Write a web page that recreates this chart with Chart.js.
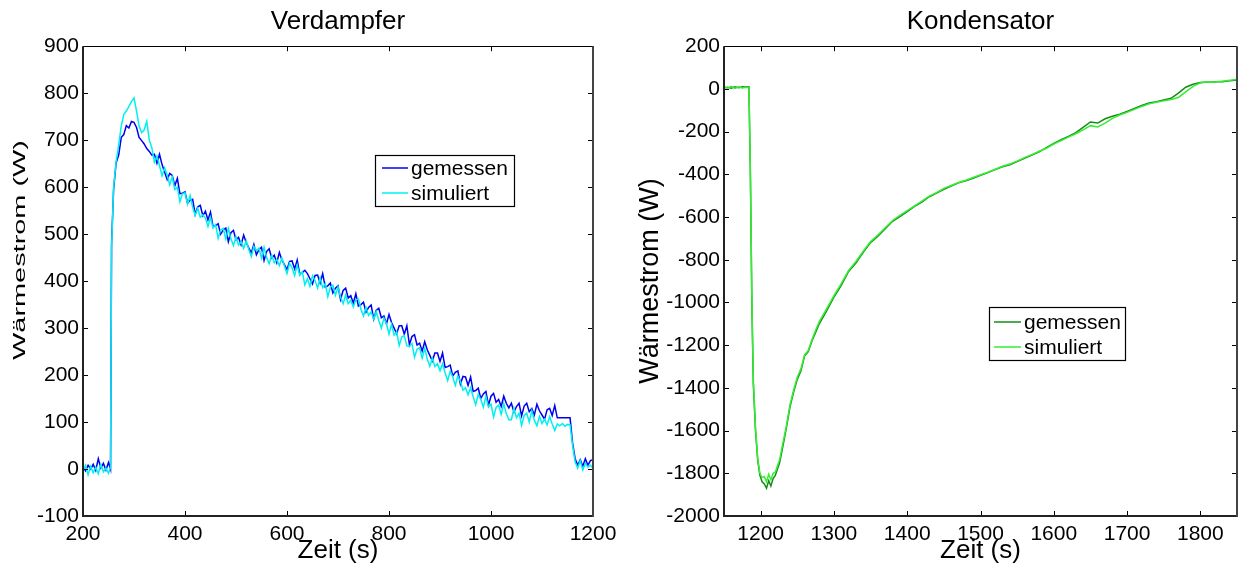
<!DOCTYPE html>
<html>
<head>
<meta charset="utf-8">
<script src="https://cdn.jsdelivr.net/npm/chart.js@4.4.0/dist/chart.umd.min.js"></script>
<style>
html,body{margin:0;padding:0;background:#fff;}
#wrap{position:relative;width:1239px;height:566px;overflow:hidden;}
.panel{position:absolute;top:0;height:566px;}
</style>
</head>
<body>
<div id="wrap">
  <div class="panel" style="left:0;width:620px"><canvas id="cVerd"></canvas></div>
  <div class="panel" style="left:620px;width:619px"><canvas id="cKond"></canvas></div>
</div>
<script>
// Verdampfer (links) / Kondensator (rechts): gemessen vs. simuliert
const FONT = '"Liberation Sans", Arial, sans-serif';

// --- Verdampfer ---
const T_VERD = [200,205,210,215,220,225,230,235,240,245,250,254,256,
  260,265,270,275,280,285,290,295,300,305, 310,315,320,325,330,335,340,345,350,355,
  360,365,370,375,380,385,390,395,400,405, 410,415,420,425,430,435,440,445,450,455,
  460,465,470,475,480,485,490,495,500,505, 510,515,520,525,530,535,540,545,550,555,
  560,565,570,575,580,585,590,595,600,605, 610,615,620,625,630,635,640,645,650,655,
  660,665,670,675,680,685,690,695,700,705, 710,715,720,725,730,735,740,745,750,755,
  760,765,770,775,780,785,790,795,800,805, 810,815,820,825,830,835,840,845,850,855,
  860,865,870,875,880,885,890,895,900,905, 910,915,920,925,930,935,940,945,950,955,
  960,965,970,975,980,985,990,995,1000,1005, 1010,1015,1020,1025,1030,1035,1040,1045,1050,1055,
  1060,1065,1070,1075,1080,1085,1090,1095,1100,1105, 1110,1115,1120,1125,1130,1135,1140,1145,1150,1155,
  1160,1165,1170,1175,1180,1185,1190,1195,1200];
const GEM_VERD = [5,-4,8,0,10,-3,22,2,12,-2,14,0,480,
  595,652,668,706,712,731,726,740,738,727, 706,699,692,682,676,668,670,651,670,648,
  632,616,629,625,603,619,586,587,590,566, 572,574,542,558,561,539,549,530,547,516,
  518,522,500,509,513,484,503,508,488,493, 477,498,482,471,460,478,456,467,472,444,
  463,469,449,455,439,461,445,435,424,442, 443,426,445,415,418,423,416,405,394,412,
  413,396,416,387,390,396,375,385,390,361, 380,385,364,369,353,373,347,350,355,334,
  344,349,319,338,342,322,326,309,329,312, 300,288,305,305,287,305,265,282,286,264,
  268,251,271,254,242,230,247,247,229,247, 216,218,221,198,206,209,181,197,196,178,
  196,165,167,172,150,160,165,136,155,161, 142,148,133,155,140,130,140,121,133,140,
  113,134,140,122,129,115,138,124,115,106, 126,129,114,135,109,109,109,109,109,109,
  55,22,8,20,6,22,8,18,20];
const SIM_VERD = [-5,8,-12,6,-8,4,-10,10,-6,2,-9,4,470,
  600,655,690,730,755,762,772,782,790,762, 730,716,722,740,700,684,653,666,646,624,
  641,626,605,622,595,600,569,586,588,564, 582,557,540,555,536,541,534,516,536,513,
  520,491,509,512,490,512,490,476,494,477, 484,470,486,468,452,474,465,470,449,472,
  450,437,455,439,446,433,449,432,416,438, 428,412,434,412,420,392,405,389,411,401,
  385,407,386,395,367,387,391,370,388,366, 352,370,352,359,345,360,362,340,326,344,
  327,334,319,335,316,300,321,310,287,308, 285,292,263,281,284,262,261,267,238,255,
  258,236,257,234,219,236,218,224,209,224, 205,188,208,196,178,198,187,168,173,158,
  173,154,137,159,148,132,154,132,138,111, 131,136,116,139,118,105,105,129,109,119,
  93,114,119,100,124,104,92,112,97,106, 94,112,96,82,96,92,97,91,95,94,
  50,15,2,18,-2,12,4,8,2];
const XTICKS_VERD = [200,400,600,800,1000,1200];
const YTICKS_VERD = [-100,0,100,200,300,400,500,600,700,800,900];

// --- Kondensator ---
const T_KOND = [1150,1155,1160,1165,1170,1175,1180,1184,1186,1188,1190,1193,1196,1199,1202,1205,1208,1211,1214,1217,
  1220,1223,1226,1230,1235,1240,1245,1250,1255,1260,1265,1270,1275,1280,
  1290,1300,1310,1320,1330,1340,1350,1360,1370,1380,1390,1400,1410,1420,1430,1440,1450,1460,1470,1480,1490,
  1500,1510,1520,1530,1540,1550,1560,1570,1580,1590,1600,1610,1620,1630,1640,1650,1660,1670,1680,1690,
  1700,1710,1720,1730,1740,1750,1760,1770,1780,1790,1800,1810,1820,1830,1840,1850];
const GEM_KOND = [5,8,3,10,6,10,9,10,-400,-1000,-1380,-1600,-1740,-1810,-1840,-1850,-1870,-1835,-1860,-1825,
  -1810,-1780,-1750,-1680,-1590,-1490,-1420,-1360,-1320,-1250,-1230,-1180,-1140,-1100,
  -1040,-975,-920,-855,-815,-765,-720,-690,-655,-620,-598,-575,-550,-530,-505,-488,-470,-455,-440,-430,-418,
  -405,-392,-378,-365,-355,-340,-325,-310,-295,-275,-255,-238,-222,-205,-180,-155,-160,-140,-128,-118,
  -105,-92,-78,-66,-60,-52,-44,-20,8,22,30,32,34,33,38,42];
const SIM_KOND = [8,4,12,2,10,4,8,6,-380,-980,-1360,-1590,-1730,-1800,-1820,-1815,-1840,-1805,-1830,-1800,
  -1795,-1765,-1735,-1665,-1580,-1480,-1410,-1350,-1310,-1245,-1225,-1175,-1130,-1090,
  -1030,-968,-912,-850,-808,-760,-715,-684,-650,-616,-592,-570,-548,-526,-502,-486,-466,-452,-438,-428,-415,
  -402,-390,-376,-362,-352,-338,-322,-308,-292,-278,-258,-242,-226,-210,-192,-172,-178,-160,-138,-122,
  -110,-96,-82,-70,-62,-56,-50,-40,-14,12,28,34,32,36,40,45];
const XTICKS_KOND = [1200,1300,1400,1500,1600,1700,1800];
const YTICKS_KOND = [-2000,-1800,-1600,-1400,-1200,-1000,-800,-600,-400,-200,0,200];

const Y_LABEL = 'Wärmestrom (W)';

function pts(ts, vs){ return ts.map((t,i)=>({x:t, y:vs[i]})); }

function hline(ctx,x1,y1,x2,y2){ ctx.beginPath(); ctx.moveTo(x1,y1); ctx.lineTo(x2,y2); ctx.stroke(); }

// Kasten + nach innen zeigende Ticks (MATLAB-Stil)
const boxTicks = {
  id:'boxTicks',
  afterDraw(chart){
    const {ctx, chartArea:a, scales:{x, y}} = chart;
    const L = 5;
    ctx.save();
    ctx.strokeStyle = '#000'; ctx.lineWidth = 1;
    x.ticks.forEach(t=>{
      const px = Math.round(x.getPixelForValue(t.value))+0.5;
      hline(ctx,px,a.bottom,px,a.bottom-L);
      hline(ctx,px,a.top,px,a.top+L);
    });
    y.ticks.forEach(t=>{
      const py = Math.round(y.getPixelForValue(t.value))+0.5;
      hline(ctx,a.left,py,a.left+L,py);
      hline(ctx,a.right,py,a.right-L,py);
    });
    ctx.lineWidth = 1; ctx.strokeStyle = '#000';
    hline(ctx,a.left,Math.round(a.top)+0.5,a.right,Math.round(a.top)+0.5);
    ctx.lineWidth = 2; ctx.strokeStyle = '#222';
    hline(ctx,Math.round(a.left),a.top,Math.round(a.left),a.bottom+1);
    hline(ctx,a.left-1,Math.round(a.bottom),a.right+1,Math.round(a.bottom));
    ctx.strokeStyle = '#444';
    hline(ctx,Math.round(a.right),a.top,Math.round(a.right),a.bottom+1);
    ctx.restore();
  }
};

const boxLegend = {
  id:'boxLegend',
  afterDraw(chart, args, o){
    const ctx = chart.ctx;
    ctx.save();
    ctx.fillStyle = '#fff'; ctx.fillRect(o.x,o.y,o.w,o.h);
    ctx.strokeStyle = '#000'; ctx.lineWidth = 1.2; ctx.strokeRect(o.x+0.5,o.y+0.5,o.w,o.h);
    ctx.font = '21px ' + FONT; ctx.textBaseline = 'middle';
    chart.data.datasets.forEach((ds,i)=>{
      const yy = o.y + o.rows[i];
      ctx.strokeStyle = ds.borderColor; ctx.lineWidth = 1.5;
      hline(ctx,o.x+o.lx1,yy,o.x+o.lx2,yy);
      ctx.fillStyle = '#000'; ctx.fillText(ds.label, o.x+o.tx, yy+1);
    });
    ctx.restore();
  }
};

// schmale, in Textrichtung gestreckte y-Beschriftung (linkes Diagramm)
const stretchLabel = {
  id:'stretchLabel',
  afterDraw(chart, args, o){
    if(!o || !o.text) return;
    const ctx = chart.ctx;
    ctx.save();
    ctx.translate(o.x, o.y);
    ctx.rotate(-Math.PI/2);
    ctx.scale(o.stretch, 1);
    ctx.font = o.size + 'px ' + FONT;
    ctx.fillStyle = '#000'; ctx.textAlign = 'center'; ctx.textBaseline = 'middle';
    ctx.fillText(o.text, 0, 0);
    ctx.restore();
  }
};

function makeChart(id, cfg){
  return new Chart(document.getElementById(id), {
    type:'line',
    data:{datasets:[
      {label:'gemessen', data:pts(cfg.t, cfg.gem), borderColor:cfg.cGem, borderWidth:1.5, pointRadius:0, tension:0, fill:false, order:1},
      {label:'simuliert', data:pts(cfg.t, cfg.sim), borderColor:cfg.cSim, borderWidth:1.5, pointRadius:0, tension:0, fill:false, order:0}
    ]},
    options:{
      responsive:true, maintainAspectRatio:false, animation:false,
      layout:{padding:{left:0, right:cfg.padR, top:0, bottom:0}},
      plugins:{
        legend:{display:false}, tooltip:{enabled:false},
        title:{display:true, fullSize:false, text:cfg.title, color:'#000', font:{family:FONT, size:26, weight:'normal'}, padding:{top:6, bottom:9}},
        boxLegend:cfg.legend,
        stretchLabel:cfg.stretchLabel || {}
      },
      scales:{
        x:{type:'linear', min:cfg.xMin, max:cfg.xMax,
          grid:{display:false, drawTicks:false}, border:{display:false},
          afterBuildTicks:s=>{ s.ticks = cfg.xTicks.map(v=>({value:v})); },
          afterFit:s=>{ s.height = 50; s.paddingLeft = 0; s.paddingRight = 0; },
          ticks:{color:'#000', font:{family:FONT, size:21}, padding:6, maxRotation:0, autoSkip:false, callback:v=>String(v)},
          title:{display:true, text:'Zeit (s)', color:'#000', font:{family:FONT, size:26, lineHeight:1.1}, padding:{top:0, bottom:1}}},
        y:{type:'linear', min:cfg.yMin, max:cfg.yMax,
          grid:{display:false, drawTicks:false}, border:{display:false},
          afterBuildTicks:s=>{ s.ticks = cfg.yTicks.map(v=>({value:v})); },
          afterFit:s=>{ s.width = cfg.yW; s.paddingTop = 0; s.paddingBottom = 0; },
          ticks:{color:'#000', font:{family:FONT, size:21}, padding:4, autoSkip:false, callback:v=>String(v)},
          title:{display:cfg.yTitleSize > 0, text:Y_LABEL, color:'#000', font:{family:FONT, size:cfg.yTitleSize || 12}, padding:{top:cfg.yTitlePad, bottom:0}}}
      }
    },
    plugins:[boxTicks, boxLegend, stretchLabel]
  });
}

makeChart('cVerd', {
  title:'Verdampfer', t:T_VERD, gem:GEM_VERD, sim:SIM_VERD,
  cGem:'#0000f0', cSim:'#00f0f0',
  xMin:200, xMax:1200, yMin:-100, yMax:900, xTicks:XTICKS_VERD, yTicks:YTICKS_VERD,
  padR:27, yW:83, yTitleSize:0, yTitlePad:0,
  stretchLabel:{text:Y_LABEL, x:20, y:250, size:17, stretch:1.7},
  legend:{x:375, y:155, w:139, h:51, rows:[13,38], lx1:7, lx2:33, tx:36}
});

makeChart('cKond', {
  title:'Kondensator', t:T_KOND, gem:GEM_KOND, sim:SIM_KOND,
  cGem:'#168c16', cSim:'#33ee33',
  xMin:1150, xMax:1850, yMin:-2000, yMax:200, xTicks:XTICKS_KOND, yTicks:YTICKS_KOND,
  padR:2, yW:104, yTitleSize:27, yTitlePad:14,
  legend:{x:369, y:307, w:136, h:53, rows:[15,40], lx1:5, lx2:32, tx:35}
});
</script>
</body>
</html>
